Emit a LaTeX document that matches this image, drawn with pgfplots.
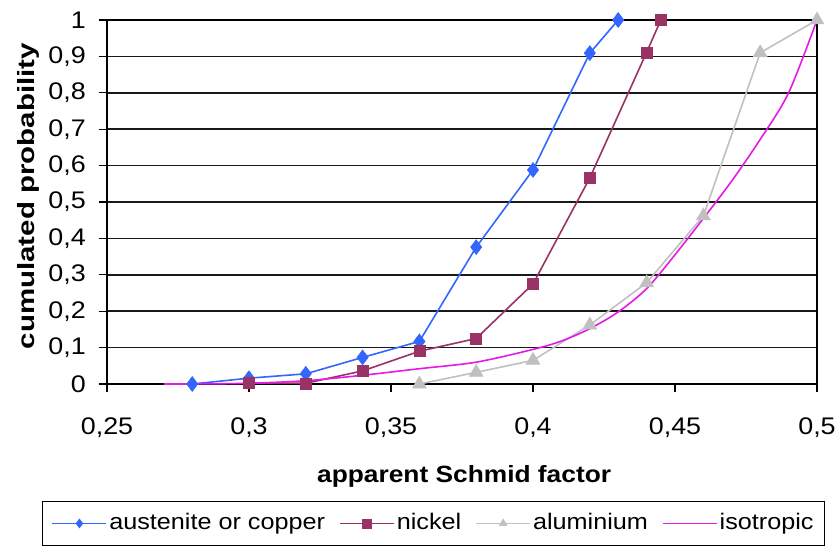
\documentclass[border=0pt]{standalone}
\usepackage{fontspec}
\setmainfont{Liberation Sans}[FakeStretch=1.12]
\usepackage{pgfplots}
\pgfplotsset{compat=1.18}
\definecolor{cAus}{HTML}{3366FF}
\definecolor{cNi}{HTML}{993366}
\definecolor{cAl}{HTML}{C0C0C0}
\definecolor{cIso}{HTML}{E619E6}
\begin{document}
\fontsize{24bp}{28bp}\selectfont
\begin{tikzpicture}
\path[use as bounding box] (-107bp,-162bp) rectangle (733bp,384bp);
\begin{axis}[
  scale only axis, width=710bp, height=364bp,
  at={(0,0)}, anchor=south west,
  xmin=0.25, xmax=0.5, ymin=0, ymax=1,
  xtick={0.25,0.3,0.35,0.4,0.45,0.5},
  ytick={0,0.1,0.2,0.3,0.4,0.5,0.6,0.7,0.8,0.9,1},
  xtick pos=bottom, ytick pos=left,
  tick align=outside, major tick length=8bp,
  tick style={black, line width=1.2bp},
  axis line style={black, line width=1.8bp},
  ymajorgrids, grid style={black!90, line width=1.6bp},
  /pgf/number format/assume math mode=true,
  /pgf/number format/.cd, use comma, fixed, precision=2, /pgfplots/.cd,
  tick label style={font=\fontsize{24bp}{28bp}\selectfont},
  xticklabel style={yshift=-18bp},
  yticklabel style={xshift=-5bp},
  xlabel={\textbf{apparent Schmid factor}},
  ylabel={\scalebox{1.12}[1]{\textbf{cumulated probability}}},
  label style={font=\fontsize{23.5bp}{27bp}\selectfont},
  xlabel style={at={(axis description cs:0.503,0)}, anchor=base, yshift=-98bp},
  ylabel style={at={(axis description cs:-0.111,0.516)}, anchor=center},
  legend columns=-1,
  legend style={at={(axis description cs:-0.0915,-0.3214)}, anchor=north west,
    draw=black, line width=1bp, font=\fontsize{22.5bp}{27bp}\selectfont,
    inner xsep=9bp, inner ysep=10bp,
    /tikz/every even column/.append style={column sep=12bp}},
  legend image code/.code={\draw[line width=1.8bp, mark size=4.5bp, mark repeat=2,mark phase=2] plot coordinates {(0bp,0bp) (27bp,0bp) (54bp,0bp)};},
]
\addplot[cAus, line width=1.6bp, mark=diamond*, mark size=7.5bp, mark options={fill=cAus, line width=0.5bp}]
  coordinates {(0.28,0) (0.30,0.016) (0.32,0.028) (0.34,0.073) (0.36,0.117) (0.38,0.376) (0.40,0.588) (0.42,0.909) (0.43,1.0)};
\addlegendentry{austenite or copper}
\addplot[cNi, line width=1.6bp, mark=square*, mark size=5.5bp, mark options={fill=cNi, line width=0.5bp}]
  coordinates {(0.30,0.003) (0.32,0.002) (0.34,0.036) (0.36,0.09) (0.38,0.125) (0.40,0.275) (0.42,0.566) (0.44,0.911) (0.445,1.0)};
\addlegendentry{nickel}
\addplot[cAl, line width=1.6bp, mark=triangle*, mark size=8bp, mark options={fill=cAl, line width=0.5bp}]
  coordinates {(0.36,0) (0.38,0.032) (0.40,0.065) (0.42,0.162) (0.44,0.278) (0.46,0.462) (0.48,0.91) (0.50,1.0)};
\addlegendentry{aluminium}
\addplot[cIso, line width=1.6bp, smooth]
  coordinates {(0.27,0) (0.28,0) (0.30,0.002) (0.32,0.009) (0.34,0.024) (0.36,0.042) (0.38,0.06) (0.40,0.095) (0.41,0.118) (0.42,0.152) (0.43,0.198) (0.44,0.262) (0.45,0.355) (0.46,0.455) (0.47,0.558) (0.48,0.672) (0.49,0.80) (0.50,1.0)};
\addlegendentry{isotropic}
\end{axis}
\end{tikzpicture}
\end{document}
